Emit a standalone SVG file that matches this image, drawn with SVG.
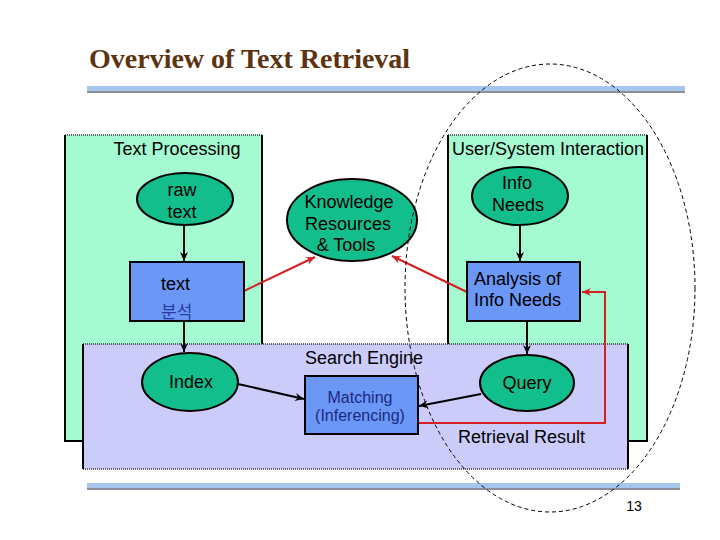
<svg xmlns="http://www.w3.org/2000/svg" width="720" height="540" viewBox="0 0 720 540">
<defs>
<style>
.t{font-family:"Liberation Sans",Arial,sans-serif;font-size:18px;fill:#000}
.c{text-anchor:middle}
.ell{fill:#12bf8c;stroke:#000;stroke-width:2}
.box{fill:#6b97f7;stroke:#000;stroke-width:2}
.blk{stroke:#000;stroke-width:2;fill:none}
.red{stroke:#d42020;stroke-width:2;fill:none}
.pg{fill:#a4fbd2}
.se{fill:#ccccfa}
.dot{stroke:#333;stroke-width:1.5;stroke-dasharray:1 1;fill:none}
.sol{stroke:#000;stroke-width:2;fill:none}
</style>
<marker id="ab" markerWidth="10" markerHeight="10" refX="9" refY="5" orient="auto" markerUnits="userSpaceOnUse"><path d="M0,1 L9,5 L0,9 L3,5 z" fill="#000"/></marker>
<marker id="ar" markerWidth="10" markerHeight="10" refX="9" refY="5" orient="auto" markerUnits="userSpaceOnUse"><path d="M0,1 L9,5 L0,9 L3,5 z" fill="#d42020"/></marker>
</defs>
<rect width="720" height="540" fill="#fff"/>
<text x="89" y="68" style="font-family:'Liberation Serif','Times New Roman',serif;font-size:28px;font-weight:bold;fill:#5c3410">Overview of Text Retrieval</text>
<rect x="87" y="90" width="598" height="3" fill="#8a8f99"/>
<rect x="87" y="86" width="598" height="5" fill="#a6c6ee"/>
<rect x="87" y="487" width="593" height="3" fill="#8a8f99"/>
<rect x="87" y="483" width="593" height="5" fill="#a6c6ee"/>

<g id="panel-text-processing">
<rect class="pg" x="65" y="135" width="197" height="306"/>
<path class="dot" d="M65,135 H262"/>
<path class="sol" d="M65,135 V441 H83 M262,135 V344"/>
<text class="t c" x="177" y="155">Text Processing</text>
</g>
<g id="panel-user-system">
<rect class="pg" x="448" y="135" width="199" height="306"/>
<path class="dot" d="M448,135 H647"/>
<path class="sol" d="M448,135 V344 M647,135 V441 H628"/>
<text class="t c" x="548" y="155">User/System Interaction</text>
</g>
<g id="panel-search-engine">
<rect class="se" x="83" y="344" width="545" height="125"/>
<path class="dot" d="M83,344 H628 M83,469 H628"/>
<path class="sol" d="M83,344 V469 M628,344 V469"/>
<text class="t" x="305" y="364">Search Engine</text>
<text class="t" x="458" y="443">Retrieval Result</text>
</g>

<g id="connectors">
<path class="blk" d="M184,225 V261" marker-end="url(#ab)"/>
<path class="blk" d="M184,321 V352" marker-end="url(#ab)"/>
<path class="blk" d="M520,225 V261" marker-end="url(#ab)"/>
<path class="blk" d="M527,321 V354" marker-end="url(#ab)"/>
<path class="blk" d="M238,384 L304,399" marker-end="url(#ab)"/>
<path class="blk" d="M481,394 L419,406" marker-end="url(#ab)"/>
<path class="red" d="M244,291 L315,257" marker-end="url(#ar)"/>
<path class="red" d="M467,292 L392,256" marker-end="url(#ar)"/>
<path class="red" d="M419,423 H605 V292 H582" marker-end="url(#ar)"/>
</g>

<g id="raw-text">
<ellipse class="ell" cx="185" cy="199" rx="48" ry="26"/>
<text class="t c" x="182" y="196">raw</text>
<text class="t c" x="182" y="218">text</text>
</g>
<g id="text-analysis">
<rect class="box" x="130" y="262" width="114" height="59"/>
<text class="t" x="161" y="290">text</text>
<text x="161" y="318" style="font-family:'Noto Sans CJK KR',sans-serif;font-size:17px;fill:#2a3aa0">분석</text>
</g>
<g id="knowledge">
<ellipse class="ell" cx="352" cy="220" rx="65" ry="41"/>
<text class="t c" x="349" y="208">Knowledge</text>
<text class="t c" x="348" y="230">Resources</text>
<text class="t c" x="346" y="251">&amp; Tools</text>
</g>
<g id="info-needs">
<ellipse class="ell" cx="520" cy="196" rx="48" ry="29"/>
<text class="t c" x="517" y="189">Info</text>
<text class="t c" x="518" y="211">Needs</text>
</g>
<g id="analysis">
<rect class="box" x="467" y="262" width="113" height="59"/>
<text class="t" x="474" y="285">Analysis of</text>
<text class="t" x="474" y="306">Info Needs</text>
</g>
<g id="index">
<ellipse class="ell" cx="190" cy="382" rx="48" ry="29"/>
<text class="t c" x="191" y="388">Index</text>
</g>
<g id="query">
<ellipse class="ell" cx="527" cy="383" rx="47" ry="28"/>
<text class="t c" x="527" y="389">Query</text>
</g>
<g id="matching">
<rect class="box" x="305" y="376" width="113" height="58"/>
<text x="360" y="403" text-anchor="middle" style="font-family:'Liberation Sans',Arial,sans-serif;font-size:16px;fill:#1c2a80">Matching</text>
<text x="360" y="421" text-anchor="middle" style="font-family:'Liberation Sans',Arial,sans-serif;font-size:16px;fill:#1c2a80">(Inferencing)</text>
</g>

<ellipse cx="550" cy="288" rx="145" ry="224" fill="none" stroke="#000" stroke-width="1" stroke-dasharray="4 3"/>
<text x="634" y="511" text-anchor="middle" style="font-family:'Liberation Sans',Arial,sans-serif;font-size:14px;fill:#000">13</text>
</svg>
